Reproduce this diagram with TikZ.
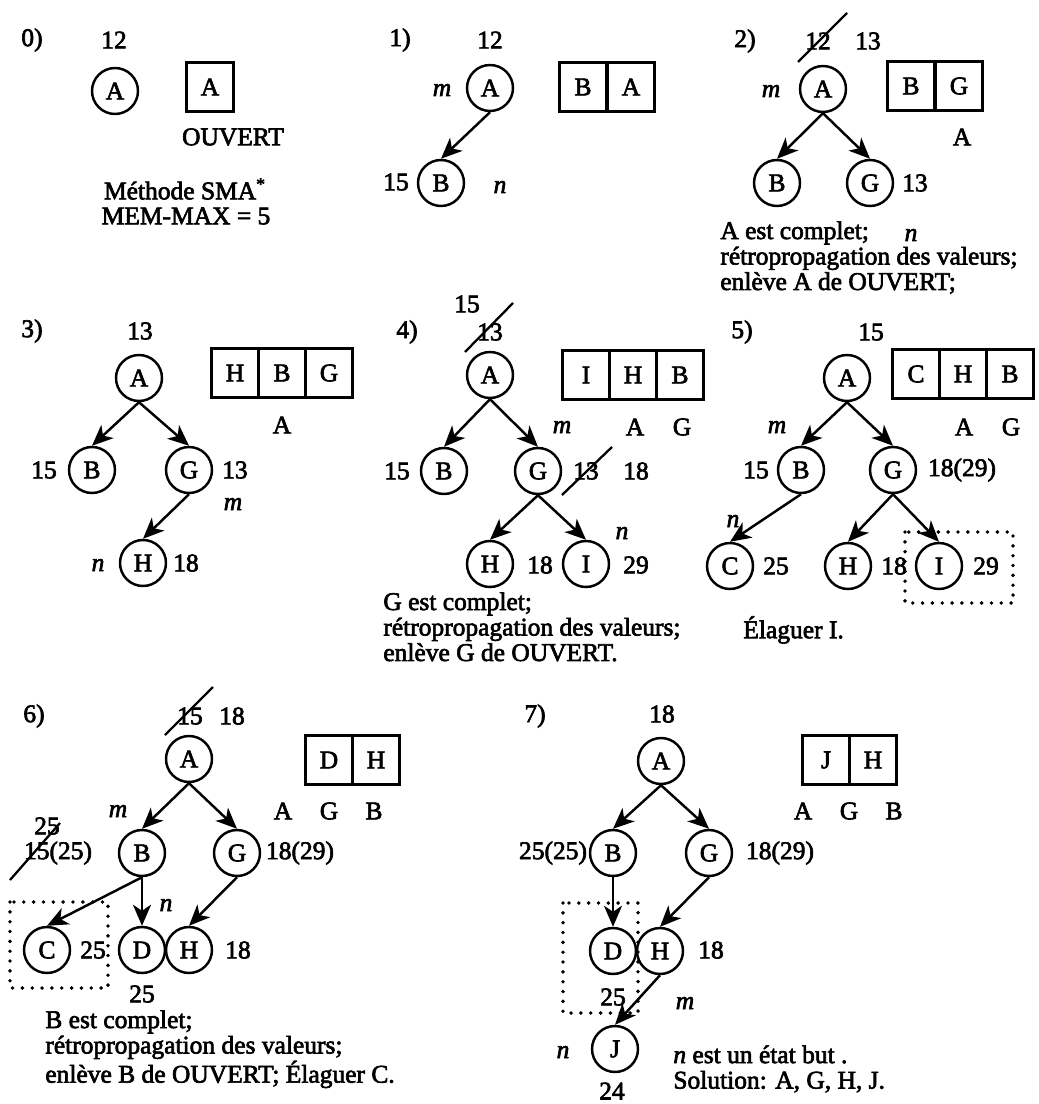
\documentclass[tikz,border=0pt]{standalone}
\usepackage{fontspec}
\setmainfont{Liberation Serif}[FakeBold=2.5]
\usetikzlibrary{arrows.meta, positioning}

\tikzset{
  st/.style={circle, draw, line width=1.4pt, minimum size=0.92cm, inner sep=0pt},
  cell/.style={draw, line width=1.3pt, minimum width=0.94cm, minimum height=0.98cm, inner sep=0pt, outer sep=0pt},
  lbl/.style={inner sep=0pt},
  note/.style={inner sep=0pt, align=left, anchor=north west},
  succ/.style={-{Stealth[length=4.2mm,width=3.6mm,inset=1.2mm]}, line width=1.4pt},
  strike/.style={line width=1.3pt},
  pruned/.style={line width=2.2pt, dash pattern=on 0pt off 5.6pt, line cap=round},
}

\begin{document}
\begin{tikzpicture}[x=0.02cm, y=-0.02cm, font={\fontsize{14.5}{14.5}\selectfont}]
    \useasboundingbox (0,0) rectangle (1038,1104);

    % 0) start
    \node[lbl] (n0) at (32,40) {0)};
    \node[lbl] (p0v) at (114,40) {12};
    \node[st] (p0a) at (115,91) {A};
    \node[cell] (p0c1) at (210,87) {A};
    \node[lbl] (p0o) at (233,137) {OUVERT};
    \node[lbl] (p0t) at (185,189) {Méthode SMA\textsuperscript{*}};
    \node[lbl] (p0mm) at (186,216) {MEM-MAX = 5};

    % 1) expand A
    \node[lbl] (n1) at (400,40) {1)};
    \node[lbl] (p1v) at (490,40) {12};
    \node[st] (p1a) at (490,88) {A};
    \node[lbl] (p1m) at (442,90) {\textit{m}};
    \foreach \t [count=\i] in {B,A}
        \node[cell] (p1c\i) at ({583+48*(\i-1)},87) {\t};
    \node[st] (p1b) at (441,183) {B};
    \node[lbl] (p1bv) at (396,182) {15};
    \node[lbl] (p1n) at (500,187) {\textit{n}};
    \draw[succ] (p1a.south) -- (p1b.north);

    % 2) A complet
    \node[lbl] (n2) at (745,41) {2)};
    \node[lbl] (p2old) at (818,41) {12};
    \draw[strike] ([shift={(-20,21)}]p2old.center) -- ([shift={(29,-28)}]p2old.center);
    \node[lbl] (p2v) at (868,41) {13};
    \node[st] (p2a) at (823,89) {A};
    \node[lbl] (p2m) at (771,91) {\textit{m}};
    \foreach \t [count=\i] in {B,G}
        \node[cell] (p2c\i) at ({911+48*(\i-1)},86) {\t};
    \node[lbl] (p2l1) at (962,137) {A};
    \node[st] (p2b) at (777,183) {B};
    \node[st] (p2g) at (870,183) {G};
    \node[lbl] (p2gv) at (915,183) {13};
    \node[lbl] (p2n) at (911,235) {\textit{n}};
    \draw[succ] (p2a.south) -- (p2b.north);
    \draw[succ] (p2a.south) -- (p2g.north);
    \node[note] (p2txt) at (720,221) {A est complet;\\rétropropagation des valeurs;\\enlève A de OUVERT;};

    % 3) expand G
    \node[lbl] (n3) at (32,331) {3)};
    \node[lbl] (p3v) at (140,331) {13};
    \node[st] (p3a) at (139,378) {A};
    \foreach \t [count=\i] in {H,B,G}
        \node[cell] (p3c\i) at ({235+47*(\i-1)},373) {\t};
    \node[lbl] (p3l1) at (282,425) {A};
    \node[st] (p3b) at (92,470) {B};
    \node[lbl] (p3bv) at (44,470) {15};
    \node[st] (p3g) at (189,470) {G};
    \node[lbl] (p3gv) at (235,470) {13};
    \node[lbl] (p3m) at (233,504) {\textit{m}};
    \node[st] (p3h) at (143,563) {H};
    \node[lbl] (p3n) at (98,565) {\textit{n}};
    \node[lbl] (p3hv) at (186,563) {18};
    \draw[succ] (p3a.south) -- (p3b.north);
    \draw[succ] (p3a.south) -- (p3g.north);
    \draw[succ] (p3g.south) -- (p3h.north);

    % 4) G complet
    \node[lbl] (n4) at (407,332) {4)};
    \node[lbl] (p4v) at (467,304) {15};
    \node[lbl] (p4old) at (490,332) {13};
    \draw[strike] ([shift={(-25,20)}]p4old.center) -- ([shift={(23,-29)}]p4old.center);
    \node[st] (p4a) at (490,375) {A};
    \foreach \t [count=\i] in {I,H,B}
        \node[cell] (p4c\i) at ({586+47*(\i-1)},375) {\t};
    \node[lbl] (p4m) at (562,427) {\textit{m}};
    \node[lbl] (p4l1) at (635,427) {A};
    \node[lbl] (p4l2) at (682,427) {G};
    \node[st] (p4b) at (444,471) {B};
    \node[lbl] (p4bv) at (397,471) {15};
    \node[st] (p4g) at (538,471) {G};
    \node[lbl] (p4gold) at (586,471) {13};
    \draw[strike] ([shift={(-24,24)}]p4gold.center) -- ([shift={(26,-24)}]p4gold.center);
    \node[lbl] (p4gv) at (636,471) {18};
    \node[lbl] (p4n) at (622,533) {\textit{n}};
    \node[st] (p4h) at (490,564) {H};
    \node[lbl] (p4hv) at (540,565) {18};
    \node[st] (p4i) at (586,564) {I};
    \node[lbl] (p4iv) at (636,565) {29};
    \draw[succ] (p4a.south) -- (p4b.north);
    \draw[succ] (p4a.south) -- (p4g.north);
    \draw[succ] (p4g.south) -- (p4h.north);
    \draw[succ] (p4g.south) -- (p4i.north);
    \node[note] (p4txt) at (383,592) {G est complet;\\rétropropagation des valeurs;\\enlève G de OUVERT.};

    % 5) prune I
    \node[lbl] (n5) at (742,332) {5)};
    \node[lbl] (p5v) at (871,332) {15};
    \node[st] (p5a) at (847,378) {A};
    \foreach \t [count=\i] in {C,H,B}
        \node[cell] (p5c\i) at ({916+47*(\i-1)},374) {\t};
    \node[lbl] (p5m) at (777,427) {\textit{m}};
    \node[lbl] (p5l1) at (964,427) {A};
    \node[lbl] (p5l2) at (1011,427) {G};
    \node[st] (p5b) at (801,470) {B};
    \node[lbl] (p5bv) at (756,470) {15};
    \node[st] (p5g) at (893,470) {G};
    \node[lbl] (p5gv) at (962,470) {18(29)};
    \node[lbl] (p5n) at (733,521) {\textit{n}};
    \node[st] (p5c) at (730,566) {C};
    \node[lbl] (p5cv) at (776,566) {25};
    \node[st] (p5h) at (848,566) {H};
    \node[lbl] (p5hv) at (894,566) {18};
    \node[st] (p5i) at (939,566) {I};
    \node[lbl] (p5iv) at (986,566) {29};
    \draw[succ] (p5a.south) -- (p5b.north);
    \draw[succ] (p5a.south) -- (p5g.north);
    \draw[succ] (p5b.south) -- (p5c.north);
    \draw[succ] (p5g.south) -- (p5h.north);
    \draw[succ] (p5g.south) -- (p5i.north);
    \draw[pruned] (905,532) rectangle (1013,603);
    \node[lbl, anchor=west] (p5txt) at (743,630) {Élaguer I.};

    % 6) B complet
    \node[lbl] (n6) at (34,716) {6)};
    \node[lbl] (p6old) at (190,716) {15};
    \draw[strike] ([shift={(-25,19)}]p6old.center) -- ([shift={(23,-29)}]p6old.center);
    \node[lbl] (p6v) at (232,716) {18};
    \node[st] (p6a) at (189,759) {A};
    \foreach \t [count=\i] in {D,H}
        \node[cell] (p6c\i) at ({329+47*(\i-1)},760) {\t};
    \node[lbl] (p6m) at (118,811) {\textit{m}};
    \node[lbl] (p6l1) at (283,811) {A};
    \node[lbl] (p6l2) at (329,811) {G};
    \node[lbl] (p6l3) at (374,811) {B};
    \node[lbl] (p6bnew) at (47,826) {25};
    \node[lbl] (p6bv) at (58,853) {15(25)};
    \draw[strike] ([shift={(-48,27)}]p6bv.center) -- ([shift={(2,-30)}]p6bv.center);
    \node[st] (p6b) at (142,853) {B};
    \node[st] (p6g) at (237,853) {G};
    \node[lbl] (p6gv) at (300,853) {18(29)};
    \node[lbl] (p6n) at (166,905) {\textit{n}};
    \node[st] (p6c) at (47,950) {C};
    \node[lbl] (p6cv) at (93,950) {25};
    \node[st] (p6d) at (142,950) {D};
    \node[st] (p6h) at (189,950) {H};
    \node[lbl] (p6hv) at (238,950) {18};
    \node[lbl] (p6dv) at (142,994) {25};
    \draw[succ] (p6a.south) -- (p6b.north);
    \draw[succ] (p6a.south) -- (p6g.north);
    \draw[succ] (p6b.south) -- (p6c.north);
    \draw[succ] (p6b.south) -- (p6d.north);
    \draw[succ] (p6g.south) -- (p6h.north);
    \draw[pruned] (10,902) rectangle (108,988);
    \node[note] (p6txt) at (45,1010) {B est complet;\\rétropropagation des valeurs;\\enlève B de OUVERT; Élaguer C.};

    % 7) goal reached
    \node[lbl] (n7) at (535,716) {7)};
    \node[lbl] (p7v) at (662,714) {18};
    \node[st] (p7a) at (661,761) {A};
    \foreach \t [count=\i] in {J,H}
        \node[cell] (p7c\i) at ({826+47*(\i-1)},760) {\t};
    \node[lbl] (p7l1) at (803,811) {A};
    \node[lbl] (p7l2) at (849,811) {G};
    \node[lbl] (p7l3) at (894,811) {B};
    \node[st] (p7b) at (613,853) {B};
    \node[lbl] (p7bv) at (553,853) {25(25)};
    \node[st] (p7g) at (709,853) {G};
    \node[lbl] (p7gv) at (780,853) {18(29)};
    \node[st] (p7d) at (613,951) {D};
    \node[st] (p7h) at (660,951) {H};
    \node[lbl] (p7hv) at (711,950) {18};
    \node[lbl] (p7dv) at (613,997) {25};
    \node[lbl] (p7m) at (685,1003) {\textit{m}};
    \node[st] (p7j) at (615,1049) {J};
    \node[lbl] (p7n) at (563,1052) {\textit{n}};
    \node[lbl] (p7jv) at (612,1091) {24};
    \draw[succ] (p7a.south) -- (p7b.north);
    \draw[succ] (p7a.south) -- (p7g.north);
    \draw[succ] (p7b.south) -- (p7d.north);
    \draw[succ] (p7g.south) -- (p7h.north);
    \draw[succ] (p7h.south) -- (p7j.north);
    \draw[pruned] (563,903) rectangle (638,1013);
    \node[note] (p7txt) at (673,1045) {\textit{n} est un état but .\\Solution: A, G, H, J.};
\end{tikzpicture}
\end{document}
